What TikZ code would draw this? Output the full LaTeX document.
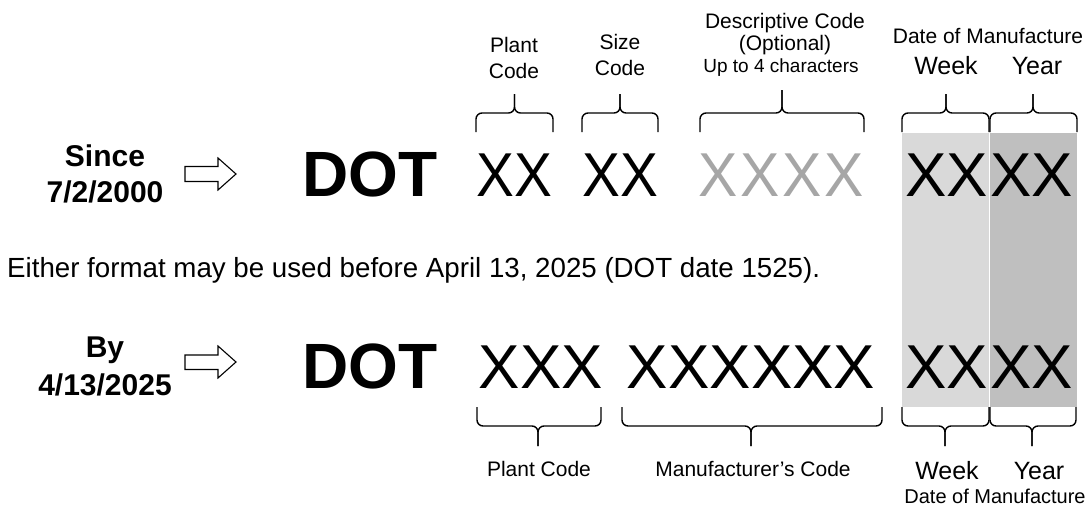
\documentclass[tikz,border=0pt]{standalone}
\usepackage{fontspec}
\setmainfont{Liberation Sans}
\definecolor{lightg}{HTML}{D9D9D9}
\definecolor{darkg}{HTML}{BFBFBF}
\definecolor{grayx}{HTML}{A6A6A6}
\newcommand\fs[1]{\fontsize{#1}{#1}\selectfont}
\newcommand\mybrk[6]{%
  \draw[brk] (#1,#4) -- (#1,#5) -- (#3,#5) -- (#3,#6);
  \draw[brk] (#2,#4) -- (#2,#5) -- (#3,#5) -- (#3,#6);}
\begin{document}
\begin{tikzpicture}[x=1pt,y=-1pt,
  lbl/.style={inner sep=0, anchor=base, font=\fs{21}},
  lblbig/.style={inner sep=0, anchor=base, font=\fs{25}},
  big/.style={inner sep=0, anchor=base, font=\fs{62}},
  dotx/.style={inner sep=0, anchor=base, font=\fs{64}\bfseries},
  when/.style={inner sep=0, anchor=base, font=\fs{30}\bfseries},
  brk/.style={line width=1.4pt, rounded corners=6pt},
  harrow/.style={draw, line width=1.1pt, fill=white, line join=miter}]
\useasboundingbox (0,0) rectangle (1088,507);
% shaded date columns
\fill[lightg] (902,133) rectangle (989,407);
\fill[darkg] (990,133) rectangle (1077,407);
% left labels
\node[when] (since) at (105,166) {Since};
\node[when] (sdate) at (105,202) {7/2/2000};
\node[when] (by) at (105,357) {By};
\node[when] (bdate) at (105,395) {4/13/2025};
% arrows
\draw[harrow] (185,166.5) -- (218,166.5) -- (218,158) -- (236,174) -- (218,190) -- (218,181.5) -- (185,181.5) -- cycle;
\draw[harrow] (185,355) -- (218,355) -- (218,346) -- (236,362) -- (218,378) -- (218,369.5) -- (185,369.5) -- cycle;
% DOT
\node[dotx] (dot1) at (370,196) {DOT};
\node[dotx] (dot2) at (370,388) {DOT};
% top row codes
\node[big] (plant1) at (514.5,196) {\scalebox{0.915}[1]{XX}};
\node[big] (size1) at (620,196) {\scalebox{0.915}[1]{XX}};
\foreach \i in {0,...,3}
  \node[big, text=grayx] (desc\i) at (717.7+\i*42.2,196) {\scalebox{0.95}[1]{X}};
\node[big] (week1) at (946.5,196) {XX};
\node[big] (year1) at (1031.5,196) {XX};
% bottom row codes
\node[big] (plant2) at (541,388) {XXX};
\node[big] (mfr2) at (751,388) {XXXXXX};
\node[big] (week2) at (946.5,388) {XX};
\node[big] (year2) at (1031.5,388) {XX};
% top labels
\node[lbl] (pl1) at (514,52) {Plant};
\node[lbl] (pl2) at (514,78) {Code};
\node[lbl] (sz1) at (620,49) {Size};
\node[lbl] (sz2) at (620,75) {Code};
\node[lbl] (dc1) at (785,28) {Descriptive Code};
\node[lbl] (dc2) at (785,50) {(Optional)};
\node[lbl, font=\fs{19}] (dc3) at (781,72) {Up to 4 characters};
\node[lbl] (dm1) at (988,43) {Date of Manufacture};
\node[lblbig] (wk1) at (946,74) {Week};
\node[lblbig] (yr1) at (1037,74) {Year};
% note
\node[inner sep=0, anchor=base west, font=\fs{27.7}] (note) at (7,277) {Either format may be used before April 13, 2025 (DOT date 1525).};
% bottom labels
\node[lbl] (pc) at (539,476) {Plant Code};
\node[lbl] (mc) at (753,476) {Manufacturer’s Code};
\node[lblbig] (wk2) at (947,479) {Week};
\node[lblbig] (yr2) at (1039,479) {Year};
\node[lbl, font=\fs{20}] (dm2) at (995,503) {Date of Manufacture};
% top brackets
\mybrk{476}{553}{514.5}{132}{113}{94}
\mybrk{582}{658}{620}{132}{113}{94}
\mybrk{700}{864}{782}{132}{113}{90}
\mybrk{902}{989}{946}{132}{113}{94}
\mybrk{990}{1077}{1033}{132}{113}{94}
% bottom brackets
\mybrk{477}{601}{538}{407}{426}{446}
\mybrk{622}{882}{751}{407}{426}{446}
\mybrk{902}{989}{945}{407}{426}{446}
\mybrk{990}{1076}{1032}{407}{426}{446}
\end{tikzpicture}
\end{document}
